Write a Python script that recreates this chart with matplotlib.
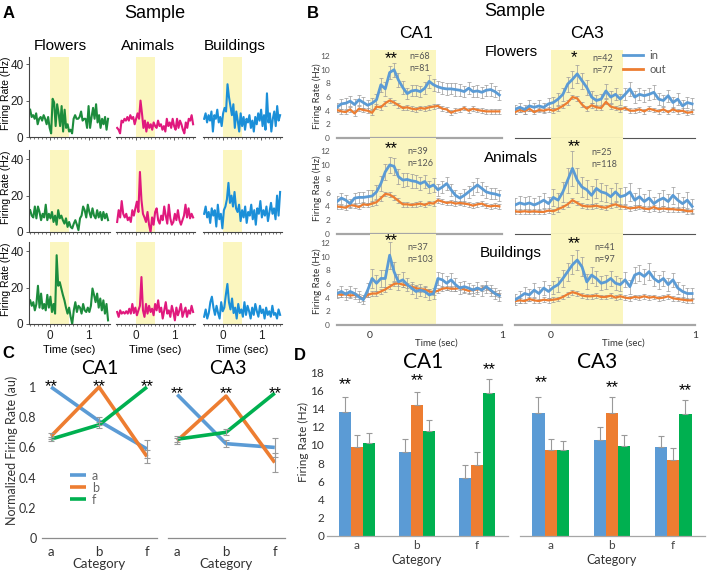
import numpy as np
import matplotlib
matplotlib.use("Agg")
import matplotlib.pyplot as plt
from matplotlib.lines import Line2D

W, H = 708, 572
plt.rcParams['font.family'] = ['Liberation Sans', 'DejaVu Sans']
XL = ['Lato', 'DejaVu Sans']   # the excel style panels (B, C, D)

SHADE = '#fbf6bf'
BLUE = '#5b9bd5'
ORANGE = '#ed7d31'
GREEN = '#00b050'
ERRC = '#9a9a9a'

# ---------------- panel A : single cell examples ----------------
a_categories = ["Flowers", "Animals", "Buildings"]
a_colors = ["#1c8c3c", "#e0197d", "#1b8fd8"]

a_flowers_1 = [15, 11, 12, 10, 13, 7, 10, 11, 9, 12, 10, 7, 11, 5, 2, 21, 19, 6, 18, 13, 6, 17, 3, 15, 5, 7,
               3, 4, 2, 10, 12, 10, 10, 11, 14, 9, 10, 10, 5, 17, 5, 11, 16, 10, 18, 8, 12, 5, 10, 7, 11, 4, 10]
a_animals_1 = [5, 4, 2, 9, 8, 10, 9, 11, 9, 12, 10, 11, 7, 10, 13, 10, 20, 13, 5, 9, 3, 8, 5, 7, 4, 8, 6,
               5, 9, 6, 7, 4, 6, 3, 10, 6, 8, 5, 10, 6, 4, 10, 5, 9, 7, 4, 2, 8, 5, 10, 9, 12, 7]
a_buildings_1 = [10, 13, 8, 12, 9, 14, 3, 12, 10, 15, 8, 11, 6, 13, 16, 14, 29, 22, 17, 12, 18, 5, 14, 9, 3, 13,
                 6, 11, 4, 10, 8, 12, 5, 9, 3, 11, 7, 13, 9, 15, 6, 12, 4, 24, 8, 13, 3, 10, 14, 6, 17, 9, 12]
a_flowers_2 = [12, 9, 8, 14, 7.5, 14, 11, 6.5, 10, 8, 15, 6.5, 10, 7.5, 11, 5.5, 9, 4, 12, 7.5, 9, 6.5, 4.6, 7.5,
               2.8, 5.5, 2.8, 2, 4.6, 6.5, 4, 1, 7.5, 9, 14, 12, 8, 15, 11, 8, 13, 9, 7.5, 12, 8, 11, 6.5, 11, 7.5, 10, 6.5]
a_animals_2 = [5.5, 12, 8, 17, 10, 8, 10, 6.5, 8, 5.5, 12, 9, 13, 16.7, 11, 33, 17.6, 10, 8, 5.5, 11, 4, 0, 8, 4,
               11, 13, 6.5, 4.6, 9, 6.5, 14, 9, 4.6, 15, 7.5, 4, 5.5, 10, 6.5, 12, 6.5, 4, 6.5, 9, 15, 8, 13, 7.5, 10, 8]
a_buildings_2 = [10, 14, 8, 11, 5, 13, 9, 12, 3, 15, 7, 10, 2, 12, 14, 18, 27, 16, 20, 14, 22, 13, 11, 15, 6, 12,
                 8, 14, 5, 11, 9, 15, 7, 12, 4, 13, 10, 17, 8, 12, 9, 14, 6, 11, 16, 10, 13, 7, 20, 9, 22]
a_flowers_3 = [13, 10, 12, 7.5, 11, 21, 9, 16.7, 8.4, 11, 7.5, 16, 9, 15, 6.6, 11, 5.7, 37.8, 21, 23, 19.5, 16, 13,
               9, 5.7, 9, 3.9, 0, 7.5, 12, 6.6, 10, 9, 5.7, 11, 7.5, 6.6, 9, 6.6, 10, 19.5, 16, 12, 16.7, 9, 14, 7.5,
               13, 5.7, 11, 2]
a_animals_3 = [6.6, 3.9, 7.5, 5.7, 6.6, 5.7, 7, 5.7, 8.4, 5.7, 11, 6, 9, 4.8, 7.5, 10, 25.8, 7.5, 3.9, 11, 5.7, 10,
               6.6, 8.4, 4.8, 11, 7.5, 13, 6.6, 9, 3, 7.5, 12, 5.7, 7.5, 3.9, 10, 6.6, 2, 9, 4.8, 7.5, 11, 3.9, 6.6,
               9, 3.9, 7.5, 5.7, 10, 6.6]
a_buildings_3 = [4, 8, 3, 6, 12, 15, 9, 5, 10, 6, 3, 12, 7, 9, 16, 22, 12, 8, 14, 6, 9, 3, 11, 6, 8, 4, 12, 5, 10,
                 7, 3, 9, 5, 11, 7, 4, 10, 6, 8, 3, 9, 5, 7, 4, 10, 5, 6, 3, 8, 5]

a_traces = [[a_flowers_1, a_animals_1, a_buildings_1],
            [a_flowers_2, a_animals_2, a_buildings_2],
            [a_flowers_3, a_animals_3, a_buildings_3]]

# ---------------- panel B : population PSTH ----------------
b_regions = ["CA1", "CA3"]
b_rowlabels = ["Flowers", "Animals", "Buildings"]
b_time = np.linspace(-0.25, 0.98, 38)   # bin centres (sec)

b_ca1_flowers_in = [4.5, 5.0, 5.1, 5.4, 4.9, 5.6, 5.2, 4.8, 5.1, 5.6, 7.8, 7.2, 9.6, 10.0, 8.5, 7.4, 6.5, 6.9, 7.0,
                    6.8, 7.3, 8.3, 7.8, 7.5, 7.3, 7.2, 7.2, 7.1, 7.0, 6.8, 7.3, 6.8, 6.9, 6.7, 7.0, 7.1, 6.8, 6.3]
b_ca1_flowers_out = [4.1, 3.9, 3.8, 4.2, 3.6, 4.3, 4.1, 4.0, 3.7, 4.6, 4.5, 5.1, 5.5, 5.2, 4.8, 4.4, 4.5, 4.3, 4.2,
                     4.4, 4.3, 4.5, 4.6, 4.7, 4.3, 4.2, 3.7, 4.0, 4.1, 4.4, 4.0, 4.3, 4.1, 4.0, 3.9, 3.9, 3.9, 3.9]
b_ca1_animals_in = [4.7, 5.2, 4.9, 4.4, 5.2, 5.3, 5.3, 5.4, 5.5, 6.1, 7.3, 9.0, 10.0, 9.8, 8.3, 7.8, 7.9, 7.7, 7.6,
                    7.3, 7.6, 6.8, 7.1, 6.4, 6.8, 7.3, 6.4, 5.6, 5.2, 5.6, 6.1, 6.6, 7.1, 6.6, 6.1, 5.9, 5.8, 5.6]
b_ca1_animals_out = [4.0, 3.9, 3.8, 4.2, 4.1, 3.9, 4.3, 4.2, 4.4, 4.6, 5.2, 5.8, 5.7, 5.3, 4.8, 4.3, 4.3, 4.2, 4.3,
                     4.4, 4.2, 4.5, 4.4, 4.9, 4.7, 4.5, 4.6, 4.4, 4.5, 4.4, 4.3, 4.1, 4.3, 4.4, 4.1, 4.0, 4.1, 4.0]
b_ca1_buildings_in = [4.6, 4.9, 4.5, 4.9, 4.6, 4.1, 3.7, 5.1, 6.8, 6.1, 6.8, 6.8, 10.2, 7.8, 6.3, 6.6, 5.9, 5.4, 4.9,
                      5.1, 4.9, 4.4, 4.6, 6.8, 6.6, 6.1, 6.6, 5.9, 5.4, 5.6, 5.4, 5.1, 5.4, 5.1, 5.6, 5.1, 4.6, 4.3]
b_ca1_buildings_out = [4.5, 4.4, 4.5, 4.3, 4.4, 4.2, 3.8, 4.4, 4.6, 4.6, 4.9, 5.2, 5.6, 6.0, 6.1, 5.9, 5.8, 5.6, 5.4,
                       5.2, 5.2, 4.9, 4.8, 5.0, 5.3, 5.4, 5.3, 5.3, 5.4, 5.2, 5.0, 5.1, 5.2, 5.3, 5.5, 5.0, 4.6, 4.4]
b_ca3_flowers_in = [4.2, 4.5, 4.2, 4.7, 4.5, 4.7, 4.5, 5.0, 5.2, 5.7, 6.4, 7.9, 8.6, 9.4, 8.4, 7.4, 6.0, 5.5, 5.7,
                    6.9, 6.0, 6.4, 5.7, 6.4, 7.2, 6.0, 6.4, 6.2, 6.4, 6.7, 5.7, 5.5, 6.2, 5.2, 5.7, 4.7, 5.2, 5.0]
b_ca3_flowers_out = [3.8, 4.1, 3.9, 4.3, 3.8, 4.1, 4.0, 4.2, 4.0, 4.3, 4.7, 5.2, 6.0, 5.8, 4.9, 4.3, 4.8, 4.5, 4.4,
                     5.3, 4.6, 4.4, 4.2, 4.4, 4.0, 4.0, 4.2, 3.9, 4.3, 4.1, 3.9, 4.2, 3.8, 4.2, 3.9, 4.0, 3.7, 3.8]
b_ca3_animals_in = [4.2, 4.5, 4.3, 4.5, 4.2, 4.5, 4.9, 4.4, 5.3, 4.9, 6.1, 7.8, 9.5, 7.8, 6.8, 6.4, 5.6, 6.6, 6.1,
                    5.9, 5.4, 6.1, 5.4, 5.6, 6.1, 4.9, 5.4, 4.7, 5.2, 4.4, 4.9, 5.2, 4.7, 5.6, 4.9, 4.4, 4.9, 4.0]
b_ca3_animals_out = [3.3, 3.2, 3.3, 3.2, 3.3, 3.2, 3.2, 3.4, 3.3, 3.6, 3.9, 4.3, 4.9, 4.5, 4.1, 4.0, 4.0, 4.1, 3.9,
                     3.8, 4.1, 4.3, 4.0, 3.9, 3.7, 3.8, 3.9, 3.7, 3.6, 3.9, 3.6, 3.7, 3.6, 3.6, 3.5, 3.5, 3.3, 3.3]
b_ca3_buildings_in = [3.7, 4.1, 4.6, 4.4, 5.1, 4.6, 5.4, 4.9, 5.5, 5.9, 6.8, 7.8, 8.8, 9.5, 8.5, 6.3, 7.3, 6.8, 6.1,
                      6.3, 6.8, 6.1, 5.9, 6.6, 5.6, 7.3, 7.6, 7.1, 7.8, 6.8, 6.3, 6.8, 5.9, 6.6, 5.4, 4.9, 4.6, 4.6]
b_ca3_buildings_out = [3.5, 3.6, 3.5, 3.8, 3.6, 3.5, 3.7, 3.6, 3.7, 3.8, 4.1, 4.5, 4.8, 4.6, 4.3, 4.2, 4.2, 4.3, 4.1,
                       4.1, 4.3, 4.0, 4.2, 4.0, 3.9, 4.1, 4.0, 4.2, 4.0, 4.1, 3.9, 4.0, 4.2, 3.9, 3.8, 3.7, 3.6, 3.6]

b_ca1_flowers_in_err = [0.7, 0.7, 0.8, 0.7, 0.8, 0.7, 0.8, 0.7, 0.8, 0.9, 1.0, 1.0, 1.0, 1.0, 1.0, 0.9, 0.8, 0.8, 0.8,
                        0.8, 0.9, 0.9, 0.9, 0.8, 0.9, 0.9, 0.8, 0.9, 0.9, 0.8, 0.9, 0.8, 0.9, 0.8, 0.8, 0.9, 0.8, 0.8]
b_ca1_animals_in_err = [0.8, 0.8, 0.8, 0.7, 0.8, 0.8, 0.8, 0.9, 0.9, 1.0, 1.1, 1.2, 1.2, 1.2, 1.1, 1.0, 1.0, 1.0, 1.0,
                        0.9, 1.0, 0.9, 1.0, 0.9, 0.9, 1.0, 0.9, 0.8, 0.8, 0.9, 0.9, 0.9, 1.0, 0.9, 0.9, 0.8, 0.8, 0.8]
b_ca1_buildings_in_err = [0.7, 0.8, 0.8, 0.8, 0.8, 0.8, 0.7, 1.0, 1.4, 1.2, 1.2, 1.3, 2.0, 1.4, 1.2, 1.1, 1.0, 0.9,
                          0.9, 0.9, 0.8, 0.8, 0.8, 1.0, 1.0, 1.0, 1.0, 0.9, 0.9, 0.9, 0.8, 0.8, 0.9, 0.8, 0.9, 0.8,
                          0.8, 0.8]
b_ca3_flowers_in_err = [0.7, 0.7, 0.7, 0.8, 0.7, 0.8, 0.7, 0.8, 0.8, 0.9, 1.0, 1.1, 1.2, 1.3, 1.2, 1.1, 0.9, 0.8, 0.8,
                        1.0, 0.9, 0.9, 0.8, 0.9, 1.0, 0.9, 0.9, 0.9, 0.9, 1.0, 0.9, 0.8, 0.9, 0.8, 0.9, 0.8, 0.8, 0.8]
b_ca3_animals_in_err = [1.0, 1.0, 1.0, 1.0, 1.0, 1.0, 1.1, 1.0, 1.2, 1.1, 1.4, 1.8, 2.5, 1.8, 1.5, 1.4, 1.3, 1.4, 1.3,
                        1.2, 1.2, 1.3, 1.2, 1.2, 1.3, 1.1, 1.2, 1.1, 1.1, 1.0, 1.1, 1.2, 1.1, 1.2, 1.1, 1.0, 1.2, 1.0]
b_ca3_buildings_in_err = [0.8, 0.9, 0.9, 0.9, 1.0, 0.9, 1.0, 1.0, 1.0, 1.1, 1.2, 1.3, 1.4, 1.5, 1.4, 1.1, 1.2, 1.1,
                          1.0, 1.0, 1.1, 1.0, 1.0, 1.1, 1.0, 1.2, 1.2, 1.1, 1.2, 1.1, 1.0, 1.1, 1.0, 1.0, 0.9, 0.9,
                          0.8, 0.8]
b_out_err = 0.35

b_in = [[b_ca1_flowers_in, b_ca3_flowers_in], [b_ca1_animals_in, b_ca3_animals_in],
        [b_ca1_buildings_in, b_ca3_buildings_in]]
b_out = [[b_ca1_flowers_out, b_ca3_flowers_out], [b_ca1_animals_out, b_ca3_animals_out],
         [b_ca1_buildings_out, b_ca3_buildings_out]]
b_in_err = [[b_ca1_flowers_in_err, b_ca3_flowers_in_err], [b_ca1_animals_in_err, b_ca3_animals_in_err],
            [b_ca1_buildings_in_err, b_ca3_buildings_in_err]]
b_n_in = [["n=68", "n=42"], ["n=39", "n=25"], ["n=37", "n=41"]]
b_n_out = [["n=81", "n=77"], ["n=126", "n=118"], ["n=103", "n=97"]]
b_stars = [["**", "*"], ["**", "**"], ["**", "**"]]

# ---------------- panel C : normalized rates ----------------
c_categories = ["a", "b", "f"]
c_ca1_a = [1.0, 0.775, 0.59]
c_ca1_b = [0.675, 1.0, 0.54]
c_ca1_f = [0.655, 0.75, 1.0]
c_ca1_a_err = [0, 0.025, 0.06]
c_ca1_b_err = [0.02, 0, 0.04]
c_ca1_f_err = [0.015, 0.02, 0]
c_ca3_a = [0.95, 0.625, 0.60]
c_ca3_b = [0.645, 0.94, 0.50]
c_ca3_f = [0.655, 0.70, 0.96]
c_ca3_a_err = [0, 0.025, 0.06]
c_ca3_b_err = [0.02, 0, 0.06]
c_ca3_f_err = [0.02, 0.02, 0]

# ---------------- panel D : raw rates ----------------
d_ca1_a = [13.6, 9.2, 6.4]
d_ca1_b = [9.8, 14.4, 7.8]
d_ca1_f = [10.2, 11.5, 15.7]
d_ca1_a_err = [1.7, 1.5, 1.4]
d_ca1_b_err = [1.3, 1.4, 1.4]
d_ca1_f_err = [1.1, 1.2, 1.6]
d_ca3_a = [13.5, 10.5, 9.8]
d_ca3_b = [9.4, 13.5, 8.3]
d_ca3_f = [9.4, 9.9, 13.4]
d_ca3_a_err = [1.8, 1.5, 1.2]
d_ca3_b_err = [1.3, 1.8, 1.4]
d_ca3_f_err = [1.0, 1.2, 1.5]


fig = plt.figure(figsize=(W / 100, H / 100), dpi=100)


def px_axes(left, top, right, bottom):
    return fig.add_axes([left / W, 1 - bottom / H, (right - left) / W, (bottom - top) / H])


def ftext(x, y, s, **kw):
    fig.text(x / W, 1 - y / H, s, **kw)


# ================= A =================
ftext(9, 13, "A", fontsize=12, fontweight='bold', ha='center', va='center')
ftext(155, 13, "Sample", fontsize=13, ha='center', va='center')
for x, name in zip([60, 148, 235], a_categories):
    ftext(x, 46, name, fontsize=11, ha='center', va='center')

a_cols = [(29, 110), (116, 195), (203, 282)]
a_rows = [(57, 137), (150, 232), (242, 324)]
for r, (top, bot) in enumerate(a_rows):
    for c, (left, right) in enumerate(a_cols):
        ax = px_axes(left, top, right, bot)
        vals = a_traces[r][c]
        t = np.linspace(-0.5, 1.5, len(vals))
        ax.axvspan(0, 0.5, color=SHADE, lw=0)
        ax.plot(t, vals, color=a_colors[c], lw=1.5)
        ax.set_xlim(-0.53, 1.55)
        ax.set_ylim(0, (bot - top) / 1.82)
        ax.patch.set_visible(False)
        for s in ['top', 'right']:
            ax.spines[s].set_visible(False)
        ax.spines['bottom'].set_color('#444')
        ax.spines['bottom'].set_linewidth(0.8)
        ax.set_xticks([0, 1])
        ax.set_xticks(np.arange(-0.5, 1.51, 0.1), minor=True)
        ax.tick_params(axis='x', which='major', length=2.5, width=0.6, colors='#444', labelsize=8.5,
                       labelcolor='#222', pad=2)
        ax.tick_params(axis='x', which='minor', length=1.6, width=0.5, colors='#444')
        if r < 2:
            ax.set_xticklabels([])
        else:
            ax.set_xticklabels(["0", "1"])
            ax.text(0.5, -0.32, "Time (sec)", transform=ax.get_xaxis_transform(), ha='center', va='center',
                    fontsize=8)
        if c == 0:
            ax.spines['left'].set_color('#444')
            ax.spines['left'].set_linewidth(0.8)
            ax.set_yticks([0, 20, 40])
            ax.tick_params(axis='y', length=2.5, width=0.6, colors='#444', labelsize=8.5, labelcolor='#222', pad=1.5)
            ftext(6, (top + bot) / 2 - 4, "Firing Rate (Hz)", fontsize=7.5, rotation=90, ha='center', va='center')
        else:
            ax.spines['left'].set_visible(False)
            ax.set_yticks([])

# ================= B =================
ftext(313, 13, "B", fontsize=12, fontweight='bold', ha='center', va='center')
ftext(515, 11, "Sample", fontsize=13, ha='center', va='center')
ftext(416, 34, "CA1", fontsize=12.5, ha='center', va='center')
ftext(587, 34, "CA3", fontsize=12.5, ha='center', va='center')
for y, name in zip([52, 158, 253], b_rowlabels):
    ftext(511, y, name, fontsize=11, ha='center', va='center')

b_cols = [(337, 502), (515, 695)]
b_rows = [(50, 138), (138, 234), (234, 325)]
b_ymax = [12.9, 13.9, 13.3]
b_star_y = [[11.6, 11.8], [12.3, 12.6], [12.4, 11.9]]
b_n_y = [[11.9, 11.7], [12.0, 11.8], [11.3, 11.3]]
b_n_x = [[0.30, 0.29], [0.28, 0.28], [0.28, 0.30]]
for r, (top, bot) in enumerate(b_rows):
    for c, (left, right) in enumerate(b_cols):
        ax = px_axes(left, top, right, bot)
        ax.patch.set_visible(False)
        ax.axvspan(0, 0.5, color=SHADE, lw=0, zorder=0)
        ax.errorbar(b_time, b_out[r][c], yerr=b_out_err, fmt='none', ecolor=ERRC, elinewidth=0.5,
                    capsize=1.2, capthick=0.5, zorder=2)
        ax.errorbar(b_time, b_in[r][c], yerr=b_in_err[r][c], fmt='none', ecolor=ERRC, elinewidth=0.5,
                    capsize=1.2, capthick=0.5, zorder=2)
        ax.plot(b_time, b_out[r][c], color=ORANGE, lw=1.6, zorder=3)
        ax.plot(b_time, b_in[r][c], color=BLUE, lw=2.0, zorder=4)
        ax.set_xlim(-0.25, 1.0)
        ax.set_ylim(0, b_ymax[r])
        for s in ['top', 'right', 'left']:
            ax.spines[s].set_visible(False)
        if c == 0 or r == 2:
            ax.spines['bottom'].set_color('#a6a6a6')
            ax.spines['bottom'].set_linewidth(1.6)
        else:
            ax.spines['bottom'].set_color('#555')
            ax.spines['bottom'].set_linewidth(0.8)
        if c == 0:
            ax.set_yticks(range(0, 13, 2))
            ax.tick_params(axis='y', length=0, labelsize=6, labelcolor='#555', pad=5)
            for lab in ax.get_yticklabels():
                lab.set_family(XL)
            ftext(317, (top + bot) / 2 + 2, "Firing Rate (Hz)", fontsize=7, rotation=90, ha='center',
                  va='center', color='#333', family=XL)
        else:
            ax.set_yticks([])
        if r == 2:
            ax.set_xticks([0, 1])
            ax.set_xticklabels(["0", "1"])
            ax.tick_params(axis='x', length=0, labelsize=7.5, labelcolor='#333', pad=4)
            for lab in ax.get_xticklabels():
                lab.set_family(XL)
            ax.text(0.5, -0.2, "Time (sec)", transform=ax.get_xaxis_transform(), ha='center', va='center',
                    fontsize=7, color='#333', family=XL)
        else:
            ax.set_xticks([])
        ax.text(0.16, b_star_y[r][c], b_stars[r][c], ha='center', va='center', fontsize=12, zorder=5)
        ax.text(b_n_x[r][c], b_n_y[r][c], b_n_in[r][c], ha='left', va='center', fontsize=6.5,
                color='#555', family=XL, zorder=5)
        ax.text(b_n_x[r][c], b_n_y[r][c] - 1.75, b_n_out[r][c], ha='left', va='center', fontsize=6.5,
                color='#555', family=XL, zorder=5)
        if r == 0 and c == 1:
            handles = [Line2D([], [], color=BLUE, lw=2), Line2D([], [], color=ORANGE, lw=2)]
            leg = ax.legend(handles, ["in", "out"], loc='upper left', bbox_to_anchor=(0.60, 1.0),
                            frameon=False, fontsize=8, handlelength=1.8, handletextpad=0.6,
                            labelspacing=0.25, borderaxespad=0, borderpad=0)
            for txt in leg.get_texts():
                txt.set_color('#555')
                txt.set_family(XL)

# ================= C =================
ftext(8, 354, "C", fontsize=12, fontweight='bold', ha='center', va='center')
c_axes = [(42, 157), (168, 285)]
c_series = [[(c_ca1_a, c_ca1_a_err), (c_ca1_b, c_ca1_b_err), (c_ca1_f, c_ca1_f_err)],
            [(c_ca3_a, c_ca3_a_err), (c_ca3_b, c_ca3_b_err), (c_ca3_f, c_ca3_f_err)]]
c_titles = ["CA1", "CA3"]
c_title_x = [100, 228]
c_star_y = [1.0, 0.955]
colors3 = [BLUE, ORANGE, GREEN]
xs = np.arange(3)
for k, (left, right) in enumerate(c_axes):
    ax = px_axes(left, 375, right, 538)
    ax.patch.set_visible(False)
    for (vals, err), col, lab in zip(c_series[k], colors3, c_categories):
        ax.plot(xs, vals, color=col, lw=2.6, label=lab, zorder=3, solid_capstyle='butt')
        keep = [i for i in range(3) if err[i] > 0]
        ax.errorbar(xs[keep], np.array(vals)[keep], yerr=np.array(err)[keep], fmt='none', ecolor=ERRC,
                    elinewidth=0.8, capsize=2.2, capthick=0.8, zorder=4)
    ax.set_xlim(-0.19, 2.21)
    ax.set_ylim(0, 1.08)
    for s in ['top', 'right', 'left']:
        ax.spines[s].set_visible(False)
    ax.spines['bottom'].set_color('#8c8c8c')
    ax.spines['bottom'].set_linewidth(0.9)
    ax.set_xticks(xs)
    ax.set_xticklabels(c_categories)
    ax.tick_params(axis='x', length=0, labelsize=9.5, labelcolor='#333', pad=6)
    for lab in ax.get_xticklabels():
        lab.set_family(XL)
    if k == 0:
        ax.set_yticks([0, 0.2, 0.4, 0.6, 0.8, 1.0])
        ax.set_yticklabels(["0", "0.2", "0.4", "0.6", "0.8", "1"])
        ax.tick_params(axis='y', length=0, labelsize=9, labelcolor='#333', pad=4)
        for lab in ax.get_yticklabels():
            lab.set_family(XL)
        leg = ax.legend(loc='upper left', bbox_to_anchor=(0.24, 0.42), frameon=False, fontsize=9,
                        handlelength=1.3, handletextpad=0.5, labelspacing=0.0, borderaxespad=0, borderpad=0)
        for txt in leg.get_texts():
            txt.set_color('#666')
            txt.set_family(XL)
    else:
        ax.set_yticks([])
    for i in range(3):
        ax.text(i, c_star_y[k], "**", ha='center', va='center', fontsize=12, zorder=5)
    ftext(c_title_x[k], 368, c_titles[k], fontsize=14, ha='center', va='center', family=XL)
    ax.text(1, -0.16, "Category", transform=ax.get_xaxis_transform(), ha='center', va='center',
            fontsize=9.5, color='#333', family=XL)
ftext(12, 450, "Normalized Firing Rate (au)", fontsize=9, rotation=90, ha='center', va='center',
      color='#333', family=XL)

# ================= D =================
ftext(300, 355, "D", fontsize=12, fontweight='bold', ha='center', va='center')
d_axes = [(327, 508), (520, 705)]
d_series = [[(d_ca1_a, d_ca1_a_err), (d_ca1_b, d_ca1_b_err), (d_ca1_f, d_ca1_f_err)],
            [(d_ca3_a, d_ca3_a_err), (d_ca3_b, d_ca3_b_err), (d_ca3_f, d_ca3_f_err)]]
d_title_x = [423, 597]
d_star_pos = [[(-0.2, 16.6), (0.0, 17.1), (0.2, 18.3)], [(-0.15, 16.8), (0.0, 16.3), (0.2, 16.0)]]
width = 0.2
for k, (left, right) in enumerate(d_axes):
    ax = px_axes(left, 370, right, 536)
    ax.patch.set_visible(False)
    for j, ((vals, err), col) in enumerate(zip(d_series[k], colors3)):
        pos = xs + (j - 1) * width
        ax.bar(pos, vals, width=width, color=col, zorder=2)
        ax.errorbar(pos, vals, yerr=[np.zeros(3), err], fmt='none', ecolor=ERRC, elinewidth=0.8,
                    capsize=2.2, capthick=0.8, zorder=3)
    ax.set_xlim(-0.5, 2.52)
    ax.set_ylim(0, 18.24)
    for s in ['top', 'right', 'left']:
        ax.spines[s].set_visible(False)
    ax.spines['bottom'].set_color('#a6a6a6')
    ax.spines['bottom'].set_linewidth(0.9)
    ax.set_xticks(xs)
    ax.set_xticklabels(c_categories)
    ax.tick_params(axis='x', length=0, labelsize=8.5, labelcolor='#444', pad=3)
    for lab in ax.get_xticklabels():
        lab.set_family(XL)
    if k == 0:
        ax.set_yticks(range(0, 19, 2))
        ax.tick_params(axis='y', length=0, labelsize=8.5, labelcolor='#333', pad=2)
        for lab in ax.get_yticklabels():
            lab.set_family(XL)
    else:
        ax.set_yticks([])
    for i, (dx, sy) in enumerate(d_star_pos[k]):
        ax.text(i + dx, sy, "**", ha='center', va='center', fontsize=12, zorder=5)
    ftext(d_title_x[k], 362, b_regions[k], fontsize=15, ha='center', va='center', family=XL)
    ax.text(1, -0.145, "Category", transform=ax.get_xaxis_transform(), ha='center', va='center',
            fontsize=9, color='#333', family=XL)
ftext(303, 442, "Firing Rate (Hz)", fontsize=8.5, rotation=90, ha='center', va='center', color='#333', family=XL)

fig.savefig("out.png", dpi=100)
